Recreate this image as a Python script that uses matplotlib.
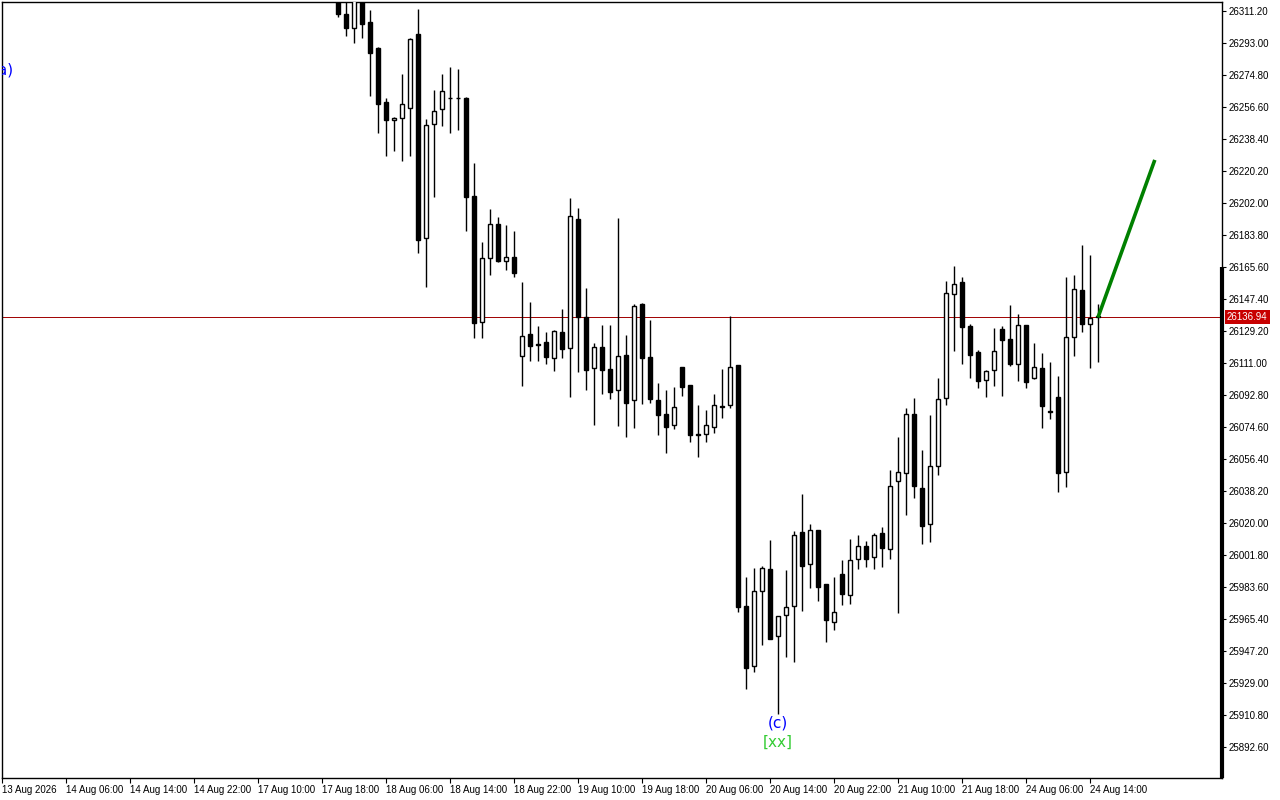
import matplotlib
matplotlib.use("Agg")
import matplotlib.pyplot as plt
import matplotlib.transforms as mtransforms
import numpy as np

# ---------------- data (hourly candles) ----------------
opens = [26325.0, 26309.5, 26301.4, 26322.0, 26304.8, 26290.2, 26259.4, 26249.0, 26250.2, 26255.9,
         26298.1, 26182.3, 26246.8, 26255.3, 26261.9, 26261.9, 26261.7, 26206.0, 26134.5, 26170.5,
         26190.1, 26168.8, 26171.3, 26114.8, 26127.5, 26121.6, 26122.9, 26114.0, 26128.6, 26119.4,
         26192.9, 26137.3, 26108.0, 26120.1, 26107.6, 26095.5, 26115.6, 26089.8, 26144.6, 26114.4,
         26090.0, 26082.0, 26075.9, 26108.5, 26098.3, 26070.4, 26070.4, 26074.8, 26086.5, 26087.0,
         26109.9, 25972.8, 25938.5, 25981.2, 25993.8, 25955.6, 25967.5, 25972.6, 26014.9, 25996.8,
         26015.8, 25985.3, 25963.7, 25990.9, 25978.9, 25999.3, 26007.1, 26000.5, 26014.1, 26005.0,
         26044.1, 26048.2, 26081.8, 26039.7, 26019.3, 26052.2, 26090.9, 26150.2, 26156.9, 26132.0,
         26117.3, 26101.2, 26106.9, 26130.2, 26124.7, 26110.3, 26132.6, 26102.7, 26108.0, 26083.6,
         26091.7, 26049.2, 26125.6, 26152.3, 26133.0, 26137.6]
highs = [26330.0, 26318.0, 26324.0, 26326.0, 26311.8, 26290.7, 26261.7, 26251.1, 26275.4, 26296.0,
         26312.3, 26249.8, 26266.3, 26275.4, 26279.4, 26278.2, 26262.1, 26224.8, 26179.6, 26198.6,
         26194.0, 26189.5, 26186.1, 26157.1, 26145.7, 26132.3, 26128.6, 26129.8, 26141.7, 26204.8,
         26199.2, 26153.7, 26122.2, 26132.7, 26132.7, 26193.3, 26126.9, 26144.7, 26145.1, 26135.5,
         26099.6, 26095.6, 26097.2, 26108.8, 26098.6, 26087.0, 26084.3, 26093.4, 26107.6, 26137.9,
         26110.0, 25989.3, 25994.4, 25995.6, 26010.3, 25967.0, 25993.3, 26015.4, 26036.5, 26019.2,
         26016.0, 25985.5, 25989.3, 25998.9, 26010.9, 26013.2, 26009.8, 26014.1, 26017.7, 26050.1,
         26068.9, 26085.2, 26091.1, 26061.3, 26081.4, 26102.6, 26157.5, 26166.2, 26159.9, 26133.2,
         26118.4, 26107.2, 26130.9, 26132.0, 26144.0, 26138.9, 26132.8, 26122.4, 26116.7, 26111.5,
         26103.8, 26159.9, 26161.0, 26178.3, 26172.6, 26144.6]
lows = [26307.6, 26297.2, 26292.8, 26296.1, 26263.0, 26242.0, 26228.9, 26231.7, 26226.1, 26228.9,
        26173.7, 26154.4, 26205.6, 26246.0, 26242.0, 26243.7, 26186.2, 26125.0, 26125.0, 26161.2,
        26168.5, 26163.9, 26160.1, 26098.1, 26112.2, 26112.2, 26110.6, 26106.7, 26114.0, 26091.8,
        26105.6, 26095.6, 26075.9, 26093.6, 26090.6, 26075.4, 26069.1, 26074.2, 26087.5, 26088.1,
        26070.2, 26060.0, 26073.6, 26092.2, 26066.2, 26057.7, 26066.2, 26071.4, 26080.0, 26085.6,
        25969.6, 25925.4, 25935.1, 25950.6, 25954.0, 25911.2, 25944.0, 25941.1, 25970.1, 25983.2,
        25975.8, 25952.3, 25959.2, 25973.6, 25974.2, 25994.0, 25994.8, 25993.7, 25994.8, 25999.3,
        25968.6, 26024.5, 26034.4, 26008.2, 26009.4, 26047.5, 26087.0, 26118.0, 26110.6, 26102.5,
        26097.0, 26091.8, 26098.1, 26092.4, 26109.5, 26101.0, 26097.0, 26101.8, 26074.2, 26079.3,
        26037.8, 26040.7, 26115.1, 26128.8, 26108.3, 26111.7]
closes = [26309.3, 26301.4, 26320.0, 26304.0, 26287.5, 26258.5, 26249.4, 26250.3, 26258.2, 26295.3,
          26181.1, 26246.2, 26254.2, 26265.5, 26261.5, 26261.5, 26205.6, 26133.9, 26170.7, 26190.1,
          26169.2, 26171.1, 26162.4, 26126.4, 26120.9, 26121.0, 26114.6, 26129.2, 26119.1, 26194.6,
          26137.3, 26107.2, 26119.9, 26107.2, 26094.3, 26114.8, 26088.1, 26143.2, 26114.0, 26090.4,
          26081.6, 26074.8, 26085.8, 26097.5, 26070.2, 26069.8, 26075.6, 26087.0, 26085.8, 26108.5,
          25972.1, 25937.7, 25981.2, 25994.4, 25954.2, 25967.0, 25972.1, 26013.2, 25995.7, 26015.8,
          25983.8, 25964.8, 25969.4, 25979.8, 25998.8, 26007.1, 25999.3, 26013.0, 26005.6, 26040.9,
          26048.8, 26081.8, 26041.2, 26018.5, 26052.2, 26090.4, 26150.6, 26155.7, 26131.6, 26115.7,
          26101.0, 26106.5, 26117.6, 26124.3, 26110.6, 26132.6, 26100.4, 26108.5, 26086.7, 26083.4,
          26048.6, 26125.6, 26152.9, 26133.4, 26136.4, 26136.94]

# time axis labels (one every 8 bars)
time_labels = ["13 Aug 2026", "14 Aug 06:00", "14 Aug 14:00", "14 Aug 22:00", "17 Aug 10:00",
               "17 Aug 18:00", "18 Aug 06:00", "18 Aug 14:00", "18 Aug 22:00", "19 Aug 10:00",
               "19 Aug 18:00", "20 Aug 06:00", "20 Aug 14:00", "20 Aug 22:00", "21 Aug 10:00",
               "21 Aug 18:00", "24 Aug 06:00", "24 Aug 14:00"]
first_label_bar = -42
label_step = 8

# price axis ticks
price_top_tick = 26311.20
price_step = 18.20
n_price_ticks = 24

current_price = 26136.94

# projection line (wave forecast)
proj_bars = [95, 102.1]
proj_prices = [26136.94, 26226.5]

# wave labels
wave_labels = [("(a)", -40.5, 26277.6, "#0000FF", "right"),
               ("(c)", 55, 25906.3, "#0000FF", "center"),
               ("[xx]", 55, 25895.0, "#33CC33", "center")]

# ---------------- figure ----------------
W, H = 1280, 800
fig = plt.figure(figsize=(W / 100, H / 100), dpi=100, facecolor="white")
ax = fig.add_axes([2 / W, 1 - 778 / H, (1222 - 2) / W, (778 - 2) / H])
ax.set_facecolor("white")

n = len(opens)
x = np.arange(n)
o = np.array(opens); h = np.array(highs); l = np.array(lows); c = np.array(closes)

ax.set_xlim(-42, 110.5)
ax.set_ylim(25874.97, 26316.32)

# wicks
ax.vlines(x, l, h, color="black", linewidth=1.0, zorder=2)
# bodies
bull = c >= o
face = np.where(bull, "white", "black")
ax.bar(x, np.abs(c - o), bottom=np.minimum(o, c), width=0.55, color=list(face),
       edgecolor="black", linewidth=1.0, zorder=3)

# current price line
ax.axhline(current_price, color="#A00000", linewidth=0.7, zorder=1)

# projection line
ax.plot(proj_bars, proj_prices, color="#008000", linewidth=2.6, zorder=4,
        solid_capstyle="butt")

# wave labels
for txt, bx, py, col, ha in wave_labels:
    ax.text(bx, py, txt, color=col, fontsize=11, ha=ha, va="center",
            family="DejaVu Sans", clip_on=True, zorder=5)

# ---------------- axes styling ----------------
for s in ax.spines.values():
    s.set_color("black")
    s.set_linewidth(1.0)

ax.yaxis.tick_right()
yt = [price_top_tick - price_step * k for k in range(n_price_ticks)]
ax.set_yticks(yt)
ax.set_yticklabels([f"{v:.2f}" for v in yt])
ax.tick_params(axis="y", direction="out", length=3, width=0.8, pad=1.5,
               labelsize=7, colors="black")

xt = [first_label_bar + label_step * k for k in range(len(time_labels))]
ax.set_xticks(xt)
ax.set_xticklabels(time_labels)
ax.tick_params(axis="x", direction="out", length=3.5, width=0.8, pad=1.5,
               labelsize=7, colors="black")
for lab in ax.get_xticklabels():
    lab.set_ha("left")
for lab in ax.get_xticklabels() + ax.get_yticklabels():
    lab.set_family("Liberation Sans")

# price label box on the axis
trans = mtransforms.blended_transform_factory(ax.transAxes, ax.transData)
ax.text(1.0 + 5 / 1220, current_price, f"{current_price:.2f}", transform=trans,
        ha="left", va="center", color="white", fontsize=7, family="Liberation Sans",
        bbox=dict(facecolor="#C80000", edgecolor="none", boxstyle="square,pad=0.2"),
        clip_on=False, zorder=10)

# thick scale marker on the right edge (from the 26165.60 level down)
ax.plot([1.0, 1.0], [yt[8], 25874.97], transform=trans, color="black",
        linewidth=3, clip_on=False, zorder=6, solid_capstyle="butt")

fig.savefig("out.png", dpi=100, facecolor="white")
